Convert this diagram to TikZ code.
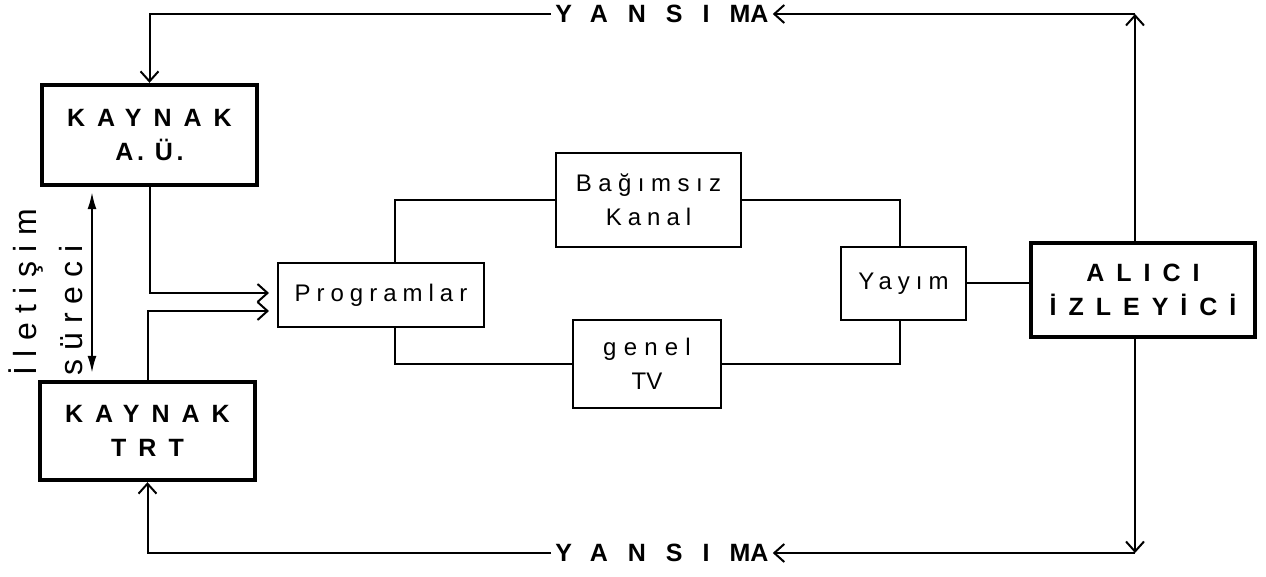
\documentclass[tikz,border=0pt]{standalone}
\usepackage{fontspec}
\setmainfont{Liberation Sans}
\usetikzlibrary{arrows.meta}

\newcommand{\spaced}[2]{{\addfontfeature{LetterSpace=#1}#2}}

\begin{document}
\begin{tikzpicture}[x=0.5pt,y=-0.5pt,
    box/.style={draw, line width=1pt, inner sep=0pt, align=center, font=\fontsize{12}{17}\selectfont},
    bigbox/.style={box, line width=2.2pt, font=\fontsize{12.5}{17}\selectfont\bfseries},
    refl/.style={inner sep=2pt, font=\fontsize{12.5}{14}\selectfont\bfseries},
    wire/.style={line width=1pt},
    fb/.style={line width=1pt, -{Straight Barb[length=5pt,width=9pt]}},
    dbl/.style={line width=1pt, {Latex[length=8.5pt,width=4.5pt]}-{Latex[length=8.5pt,width=4.5pt]}}]
    \useasboundingbox (0,0) rectangle (1266,577);

    % sources
    \node[bigbox, minimum width=107.5pt, minimum height=50pt] (au) at (149.5,135) {\spaced{48}{KAYNAK}\\\spaced{15}{A. Ü.}};
    \node[bigbox, minimum width=107.5pt, minimum height=49pt] (trt) at (147.5,431) {\spaced{48}{KAYNAK}\\\spaced{48}{TRT}};

    % middle
    \node[box, minimum width=103pt, minimum height=32pt] (prog) at (381,295) {\spaced{25}{Programlar}};
    \node[box, minimum width=92.5pt, minimum height=47pt] (bag) at (648.5,200) {\spaced{27}{Bağımsız}\\\spaced{25}{Kanal}};
    \node[box, minimum width=74pt, minimum height=44pt] (genel) at (647,364) {\spaced{30}{genel}\\TV};
    \node[box, minimum width=62.5pt, minimum height=36.5pt] (yayim) at (903.5,283.5) {\spaced{25}{Yayım}};

    % receiver
    \node[bigbox, minimum width=112pt, minimum height=47pt] (alici) at (1143,290) {\spaced{48}{ALICI}\\\spaced{48}{İZLEYİCİ}};

    % feedback
    \coordinate (tr) at (1135,14);
    \coordinate (br) at (1135,553);
    \node[refl, anchor=west] (ytop) at (551,14) {\spaced{80}{YANSIM}A};
    \node[refl, anchor=west] (ybot) at (551,553) {\spaced{80}{YANSIM}A};

    \draw[fb] (alici.north -| tr) -- (tr);
    \draw[fb] (tr) -- (ytop.east);
    \draw[fb] (ytop.west) -| (au.north);
    \draw[fb] (alici.south -| br) -- (br);
    \draw[fb] (br) -- (ybot.east);
    \draw[fb] (ybot.west) -| (trt.south);

    % inputs
    \draw[fb, shorten >=4pt] (au.south) |- ([yshift=1pt]prog.west);
    \draw[fb, shorten >=4pt] (trt.north) |- ([yshift=-8pt]prog.west);

    \draw[wire] ([xshift=7pt]prog.north) |- (bag.west);
    \draw[wire] ([xshift=7pt]prog.south) |- (genel.west);
    \draw[wire] (bag.east) -| ([xshift=-2pt]yayim.north);
    \draw[wire] (genel.east) -| ([xshift=-2pt]yayim.south);
    \draw[wire] (yayim.east) -- (yayim.east -| alici.west);

    % process
    \coordinate (lk) at (92,0);
    \draw[dbl, shorten <=2.5pt, shorten >=3.5pt] (au.south -| lk) -- (trt.north -| lk);
    \node[rotate=90, anchor=base west, align=left, inner sep=0pt, font=\fontsize{16}{23}\selectfont] (ils) at (83,376) {\spaced{30}{İletişim}\\\spaced{28}{süreci}};
\end{tikzpicture}
\end{document}
